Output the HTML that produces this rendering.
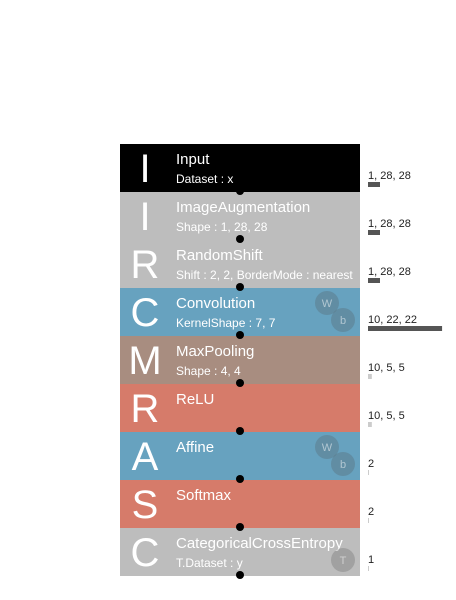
<!DOCTYPE html>
<html><head><meta charset="utf-8"><style>
body{margin:0;width:456px;height:600px;background:#fff;overflow:hidden;font-family:"Segoe UI","Liberation Sans",sans-serif}
svg{display:block}
</style></head><body>
<svg id="c" width="456" height="600"></svg>
<script>
const names=["Input","ImageAugmentation","RandomShift","Convolution","MaxPooling","ReLU","Affine","Softmax","CategoricalCrossEntropy"];
const letters=["I","I","R","C","M","R","A","S","C"];
const params=["Dataset : x","Shape : 1, 28, 28","Shift : 2, 2, BorderMode : nearest","KernelShape : 7, 7","Shape : 4, 4","","","","T.Dataset : y"];
const colors=["#000000","#bdbdbd","#bdbdbd","#67a2bf","#a88d80","#d67b6a","#67a2bf","#d67b6a","#bdbdbd"];
const shapes=["1, 28, 28","1, 28, 28","1, 28, 28","10, 22, 22","10, 5, 5","10, 5, 5","2","2","1"];
const sizes=[784,784,784,4840,250,250,2,2,1];
const badges=[[],[],[],["W","b"],[],[],["W","b"],[],["T"]];
const NS="http://www.w3.org/2000/svg";
const svg=document.getElementById('c');
const top0=144,H=48,X0=120,W=240;
function y(i){return top0+i*H;}
function bw(v){return Math.max(1,v/784*12);}
function mk(t,a,p){const e=document.createElementNS(NS,t);for(const k in a)e.setAttribute(k,a[k]);(p||svg).appendChild(e);return e;}
names.forEach((n,i)=>{
  const g=mk('g',{});
  
  
  const r=mk('rect',{x:X0,y:y(i),width:W,height:H,fill:colors[i]},g);
  
  
  const l=mk('text',{x:145,y:y(i)+38,'font-size':40,fill:'#fff','text-anchor':'middle','font-weight':300},g);
  l.textContent=letters[i];
  
  
  const t=mk('text',{x:176,y:y(i)+20,'font-size':15,fill:'#fff'},g);
  t.textContent=n;
  
  
  if(params[i]){const p=mk('text',{x:176,y:y(i)+39,'font-size':12,fill:'#fff'},g);p.textContent=params[i];
  
  }
  const bpos=[[327,y(i)+15],[343,y(i)+32]];
  badges[i].forEach((b,j)=>{
    const pos=badges[i].length==1?[343,y(i)+32]:bpos[j];
    const c=mk('circle',{cx:pos[0],cy:pos[1],r:12,fill:'rgba(80,80,80,0.25)'},g);
    
    
    const bt=mk('text',{x:pos[0],y:pos[1]+4,'font-size':11,fill:'rgba(255,255,255,0.5)','text-anchor':'middle'},g);
    bt.textContent=b;
    
    
  });
  const st=mk('text',{x:368,y:y(i)+35,'font-size':11,fill:'#222'});
  st.textContent=shapes[i];
  
  
  const sb=mk('rect',{x:368,y:y(i)+38,width:bw(sizes[i]),height:5,fill:bw(sizes[i])<4?'#ccc':'#555'});
  
  
});
names.forEach((n,i)=>{
  const d=mk('circle',{cx:240,cy:y(i)+H-1,r:4,fill:'#000'});
  
  
});
</script>
</body></html>
